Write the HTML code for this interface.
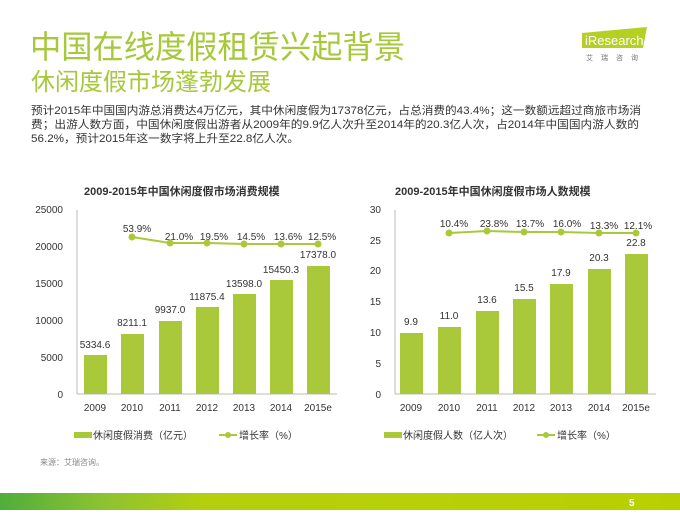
<!DOCTYPE html>
<html><head><meta charset="utf-8"><style>
body{margin:0;width:680px;height:510px;overflow:hidden;background:#fff;font-family:"Liberation Sans","Noto Sans CJK SC",sans-serif;}
</style></head><body>
<svg width="680" height="510" xmlns="http://www.w3.org/2000/svg" font-family="Liberation Sans, Noto Sans CJK SC, sans-serif">
<text x="30" y="58" font-size="32" fill="#a6c83a" textLength="375" lengthAdjust="spacingAndGlyphs">中国在线度假租赁兴起背景</text>
<text x="31" y="90" font-size="24" fill="#a6c83a" textLength="240" lengthAdjust="spacingAndGlyphs">休闲度假市场蓬勃发展</text>
<polygon points="582,33 647,27 643,48 582,48" fill="#b5cf23"/>
<text x="585" y="45" font-size="13" fill="#fff">iResearch</text>
<text x="586" y="60" font-size="7" fill="#777" letter-spacing="8">艾瑞咨询</text>
<g font-size="11" fill="#333">
<text x="31" y="114" textLength="610" lengthAdjust="spacingAndGlyphs">预计2015年中国国内游总消费达4万亿元，其中休闲度假为17378亿元，占总消费的43.4%；这一数额远超过商旅市场消</text>
<text x="31" y="128" textLength="608" lengthAdjust="spacingAndGlyphs">费；出游人数方面，中国休闲度假出游者从2009年的9.9亿人次升至2014年的20.3亿人次，占2014年中国国内游人数的</text>
<text x="31" y="142" textLength="268" lengthAdjust="spacingAndGlyphs">56.2%，预计2015年这一数字将上升至22.8亿人次。</text>
</g>
<!-- left chart -->
<text x="84" y="195" font-size="11" font-weight="bold" fill="#333">2009-2015年中国休闲度假市场消费规模</text>
<g font-size="10" fill="#333" text-anchor="end">
<text x="63" y="213">25000</text><text x="63" y="250">20000</text><text x="63" y="287">15000</text><text x="63" y="324">10000</text><text x="63" y="361">5000</text><text x="63" y="398">0</text>
</g>
<line x1="77" y1="210" x2="77" y2="394" stroke="#bbb"/>
<line x1="77" y1="394" x2="337" y2="394" stroke="#bbb"/>
<g fill="#a9c93a">
<rect x="84" y="355" width="23" height="39"/><rect x="121" y="334" width="23" height="60"/><rect x="159" y="321" width="23" height="73"/><rect x="196" y="307" width="23" height="87"/><rect x="233" y="294" width="23" height="100"/><rect x="270" y="280" width="23" height="114"/><rect x="307" y="266" width="23" height="128"/>
</g>
<g font-size="10" fill="#333" text-anchor="middle">
<text x="95" y="348">5334.6</text><text x="132" y="326">8211.1</text><text x="170" y="313">9937.0</text><text x="207" y="300">11875.4</text><text x="244" y="287">13598.0</text><text x="281" y="273">15450.3</text><text x="318" y="258">17378.0</text>
<text x="137" y="232">53.9%</text><text x="179" y="240">21.0%</text><text x="214" y="240">19.5%</text><text x="251" y="240">14.5%</text><text x="288" y="240">13.6%</text><text x="322" y="240">12.5%</text>
<text x="95" y="411">2009</text><text x="132" y="411">2010</text><text x="170" y="411">2011</text><text x="207" y="411">2012</text><text x="244" y="411">2013</text><text x="281" y="411">2014</text><text x="318" y="411">2015e</text>
</g>
<polyline points="132,237 170,243 207,243 244,244 281,244 318,244" fill="none" stroke="#a9c93a" stroke-width="2"/>
<g fill="#a9c93a"><circle cx="132" cy="237" r="3.5"/><circle cx="170" cy="243" r="3.5"/><circle cx="207" cy="243" r="3.5"/><circle cx="244" cy="244" r="3.5"/><circle cx="281" cy="244" r="3.5"/><circle cx="318" cy="244" r="3.5"/></g>
<rect x="74" y="432" width="18" height="6" fill="#a9c93a"/>
<text x="93" y="439" font-size="10" fill="#333">休闲度假消费（亿元）</text>
<line x1="219" y1="435" x2="237" y2="435" stroke="#a9c93a" stroke-width="2"/><circle cx="228" cy="435" r="3" fill="#a9c93a"/>
<text x="239" y="439" font-size="10" fill="#333">增长率（%）</text>
<text x="40" y="465" font-size="8" fill="#888">来源：艾瑞咨询。</text>
<!-- right chart -->
<text x="395" y="195" font-size="11" font-weight="bold" fill="#333">2009-2015年中国休闲度假市场人数规模</text>
<g font-size="10" fill="#333" text-anchor="end">
<text x="381" y="213">30</text><text x="381" y="244">25</text><text x="381" y="274">20</text><text x="381" y="305">15</text><text x="381" y="336">10</text><text x="381" y="367">5</text><text x="381" y="398">0</text>
</g>
<line x1="395" y1="210" x2="395" y2="394" stroke="#bbb"/>
<line x1="395" y1="394" x2="656" y2="394" stroke="#bbb"/>
<g fill="#a9c93a">
<rect x="400" y="333" width="23" height="61"/><rect x="438" y="327" width="23" height="67"/><rect x="476" y="311" width="23" height="83"/><rect x="513" y="299" width="23" height="95"/><rect x="550" y="284" width="23" height="110"/><rect x="588" y="269" width="23" height="125"/><rect x="625" y="254" width="23" height="140"/>
</g>
<g font-size="10" fill="#333" text-anchor="middle">
<text x="411" y="325">9.9</text><text x="449" y="319">11.0</text><text x="487" y="303">13.6</text><text x="524" y="291">15.5</text><text x="561" y="276">17.9</text><text x="599" y="261">20.3</text><text x="636" y="246">22.8</text>
<text x="454" y="227">10.4%</text><text x="494" y="227">23.8%</text><text x="530" y="227">13.7%</text><text x="567" y="227">16.0%</text><text x="604" y="229">13.3%</text><text x="638" y="229">12.1%</text>
<text x="411" y="411">2009</text><text x="449" y="411">2010</text><text x="487" y="411">2011</text><text x="524" y="411">2012</text><text x="561" y="411">2013</text><text x="599" y="411">2014</text><text x="636" y="411">2015e</text>
</g>
<polyline points="449,233 487,231 524,232 561,232 599,233 636,233" fill="none" stroke="#a9c93a" stroke-width="2"/>
<g fill="#a9c93a"><circle cx="449" cy="233" r="3.5"/><circle cx="487" cy="231" r="3.5"/><circle cx="524" cy="232" r="3.5"/><circle cx="561" cy="232" r="3.5"/><circle cx="599" cy="233" r="3.5"/><circle cx="636" cy="233" r="3.5"/></g>
<rect x="384" y="432" width="18" height="6" fill="#a9c93a"/>
<text x="403" y="439" font-size="10" fill="#333">休闲度假人数（亿人次）</text>
<line x1="537" y1="435" x2="555" y2="435" stroke="#a9c93a" stroke-width="2"/><circle cx="546" cy="435" r="3" fill="#a9c93a"/>
<text x="557" y="439" font-size="10" fill="#333">增长率（%）</text>
<defs><linearGradient id="g" x1="0" x2="1"><stop offset="0" stop-color="#4fae3a"/><stop offset="0.15" stop-color="#8cc232"/><stop offset="0.3" stop-color="#b5cf0e"/><stop offset="1" stop-color="#b9d000"/></linearGradient></defs>
<rect x="0" y="493" width="680" height="17" fill="url(#g)"/>
<text x="629" y="506" font-size="10" font-weight="bold" fill="#fff">5</text>
</svg>
</body></html>
